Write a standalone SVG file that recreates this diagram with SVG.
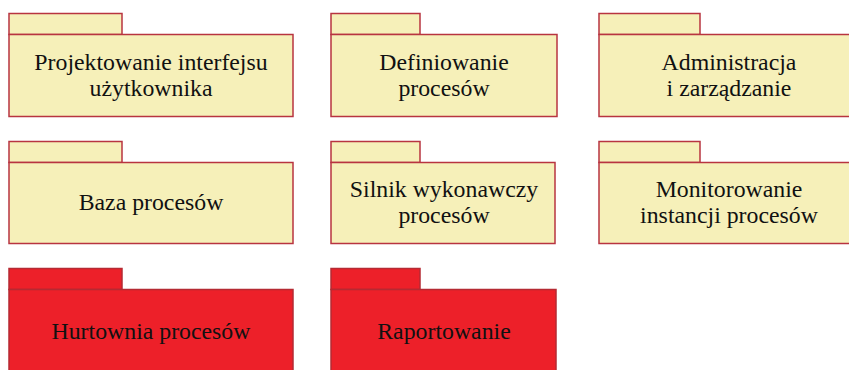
<svg xmlns="http://www.w3.org/2000/svg" width="849" height="370" viewBox="0 0 849 370">
<style>
.y{fill:#F6F0B9;stroke:#B83440;stroke-width:1.5}
.r{fill:#ED2029;stroke:#B52A33;stroke-width:1.5}
text{font-family:"Liberation Serif",serif;font-size:23.8px;fill:#111;text-anchor:middle}
</style>
<rect width="849" height="370" fill="#fff"/>
<g id="n1"><rect class="y" x="9" y="13.5" width="113" height="21"/><rect class="y" x="9" y="34.5" width="284" height="82"/><text x="151" y="70">Projektowanie interfejsu</text><text x="151" y="96">użytkownika</text></g>
<g id="n2"><rect class="y" x="331" y="13.5" width="89" height="21"/><rect class="y" x="331" y="34.5" width="226" height="82"/><text x="444" y="70">Definiowanie</text><text x="444" y="96">procesów</text></g>
<g id="n3"><rect class="y" x="599" y="13.5" width="101" height="21"/><rect class="y" x="599" y="34.5" width="260" height="82"/><text x="729" y="70">Administracja</text><text x="729" y="96">i zarządzanie</text></g>
<g id="n4"><rect class="y" x="9" y="141.5" width="113" height="21"/><rect class="y" x="9" y="162.5" width="284" height="81"/><text x="151" y="210">Baza procesów</text></g>
<g id="n5"><rect class="y" x="331" y="141.5" width="89" height="21"/><rect class="y" x="331" y="162.5" width="224" height="81"/><text x="444" y="197">Silnik wykonawczy</text><text x="444" y="223">procesów</text></g>
<g id="n6"><rect class="y" x="599" y="141.5" width="101" height="21"/><rect class="y" x="599" y="162.5" width="260" height="81"/><text x="729" y="197">Monitorowanie</text><text x="729" y="223">instancji procesów</text></g>
<g id="n7"><rect class="r" x="9" y="268.5" width="113" height="21"/><rect class="r" x="9" y="289.5" width="284" height="90"/><text x="151" y="339">Hurtownia procesów</text></g>
<g id="n8"><rect class="r" x="331" y="268.5" width="89" height="21"/><rect class="r" x="331" y="289.5" width="225" height="90"/><text x="444" y="339">Raportowanie</text></g>
<g id="connectors"/>
</svg>
